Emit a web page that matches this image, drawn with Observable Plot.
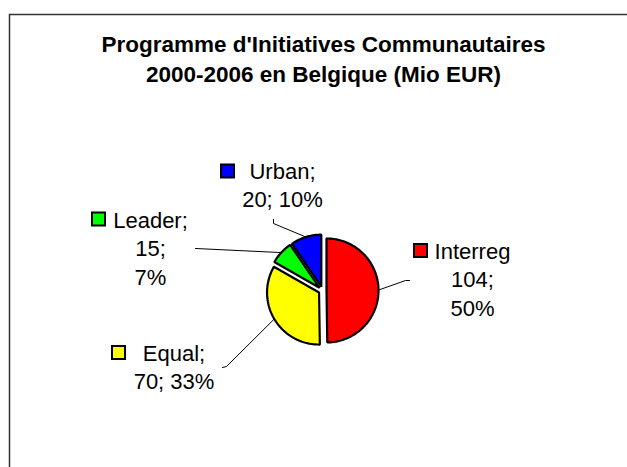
<!DOCTYPE html>
<html><head><meta charset="utf-8">
<script src="https://cdn.jsdelivr.net/npm/d3@7"></script>
<script src="https://cdn.jsdelivr.net/npm/@observablehq/plot@0.6"></script>
<style>html,body{margin:0;padding:0;background:#fff;overflow:hidden}</style>
</head><body><div id="chart"></div>
<script>
// ---- data ----
const categories = ["Interreg", "Equal", "Leader", "Urban"];
const values = [104, 70, 15, 20];
const colors = ["#FF0000", "#FFFF00", "#00FF00", "#0000FF"];
const labelNames = ["Interreg", "Equal;", "Leader;", "Urban;"];
const titleLines = ["Programme d'Initiatives Communautaires", "2000-2006 en Belgique (Mio EUR)"];

// ---- layout (not data) ----
const W = 627, H = 467;
const C = {x: 322, y: 290}, R = 52, EXPLODE = 4;
const LINE = 28.5;
const layout = {
  Interreg: {tx: 472,   ty: 258, wrap: [[0], [1], [2]], key: [420.5, 250.5], leader: [[405, 280], [409, 280]]},
  Equal:    {tx: 173.5, ty: 360, wrap: [[0], [1, 2]],   key: [118.5, 352.5], leader: [[226, 366], [222, 367]]},
  Leader:   {tx: 150,   ty: 227, wrap: [[0], [1], [2]], key: [98.5, 219],    leader: [[195, 248]]},
  Urban:    {tx: 282,   ty: 178, wrap: [[0], [1, 2]],   key: [227.5, 171],   leader: [[273, 223], [273, 219]]}
};

// ---- derived geometry ----
const total = d3.sum(values);
let acc = 0;
const slices = categories.map((c, i) => {
  const a0 = acc / total * 2 * Math.PI; acc += values[i];
  const a1 = acc / total * 2 * Math.PI;
  const mid = (a0 + a1) / 2;
  return {category: c, i, value: values[i], pct: Math.round(values[i] / total * 100), a0, a1, mid,
          cx: C.x + EXPLODE * Math.sin(mid), cy: C.y - EXPLODE * Math.cos(mid)};
});

const slicePts = [];
for (const s of slices) {
  slicePts.push({category: s.category, x: s.cx, y: s.cy});
  const n = Math.max(2, Math.ceil((s.a1 - s.a0) / (Math.PI / 180)));
  for (let k = 0; k <= n; k++) {
    const a = s.a0 + (s.a1 - s.a0) * k / n;
    slicePts.push({category: s.category, x: s.cx + R * Math.sin(a), y: s.cy - R * Math.cos(a)});
  }
}

const leaderPts = [];
for (const s of slices) {
  leaderPts.push({category: s.category, x: s.cx + R * Math.sin(s.mid), y: s.cy - R * Math.cos(s.mid)});
  for (const [x, y] of layout[s.category].leader) leaderPts.push({category: s.category, x, y});
}

const labelRows = [];
for (const s of slices) {
  const L = layout[s.category];
  const parts = [labelNames[s.i], `${s.value};`, `${s.pct}%`];
  L.wrap.forEach((g, j) => labelRows.push({x: L.tx, y: L.ty + j * LINE, text: g.map(k => parts[k]).join(" ")}));
}

const keys = slices.map(s => {
  const [kx, ky] = layout[s.category].key;
  return {category: s.category, x1: kx - 6.5, x2: kx + 6.5, y1: ky - 6.5, y2: ky + 6.5};
});

const titleRows = titleLines.map((t, j) => ({x: 323, y: 51.5 + j * 29.5, text: t}));
const border = [{x1: 9.5, y1: 14.5, x2: W + 3, y2: H + 3}];

const FONT = "'Liberation Sans', Arial, Helvetica, sans-serif";

const chart = Plot.plot({
  width: W, height: H, margin: 0,
  x: {domain: [0, W], range: [0, W], axis: null},
  y: {domain: [0, H], range: [0, H], axis: null},
  color: {domain: categories, range: colors},
  style: {fontFamily: FONT, background: "#fff", overflow: "hidden"},
  marks: [
    Plot.rect(border, {x1: "x1", y1: "y1", x2: "x2", y2: "y2", fill: "none", stroke: "#333", strokeWidth: 1.5}),
    Plot.line(slicePts, {x: "x", y: "y", z: "category", fill: "category", stroke: "black", strokeWidth: 2.2, curve: "linear-closed", strokeLinejoin: "miter"}),
    Plot.line(leaderPts, {x: "x", y: "y", z: "category", stroke: "black", strokeWidth: 1}),
    Plot.rect(keys, {x1: "x1", x2: "x2", y1: "y1", y2: "y2", fill: "category", stroke: "black", strokeWidth: 2}),
    Plot.text(labelRows, {x: "x", y: "y", text: "text", fontSize: 22, lineAnchor: "bottom", textAnchor: "middle", fill: "black", fontFamily: FONT}),
    Plot.text(titleRows, {x: "x", y: "y", text: "text", fontSize: 22.5, fontWeight: "bold", lineAnchor: "bottom", textAnchor: "middle", fill: "black", fontFamily: FONT})
  ]
});
document.getElementById("chart").appendChild(chart);
</script>
</body></html>
